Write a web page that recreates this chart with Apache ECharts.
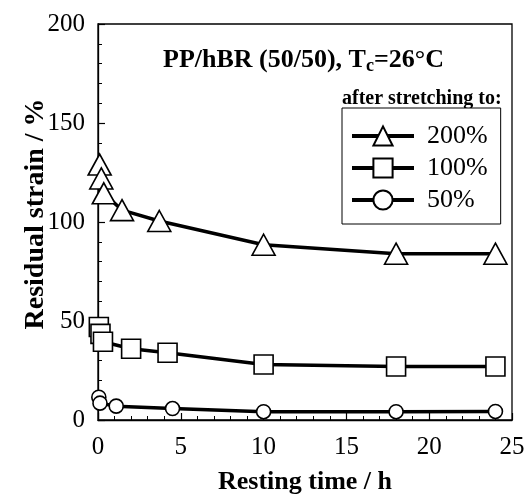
<!DOCTYPE html>
<html>
<head>
<meta charset="utf-8">
<script src="https://cdn.jsdelivr.net/npm/echarts@6/dist/echarts.min.js"></script>
<style>
  html, body { margin: 0; padding: 0; background: #fff; }
  #chart { width: 528px; height: 495px; }
</style>
</head>
<body>
<div id="chart"></div>
<script>
// Residual strain after resting, for three stretching levels
const seriesNames = ['200%', '100%', '50%'];

const time200 = [0.1, 0.2, 0.35, 1.45, 3.7, 10, 18, 24];
const strain200 = [129, 122, 114.5, 106, 100.5, 88.5, 84, 84];

const time100 = [0.05, 0.15, 0.3, 2, 4.2, 10, 18, 24];
const strain100 = [47, 43.5, 39.5, 36, 34, 28, 27, 27];

const time50 = [0.05, 0.12, 1.1, 4.5, 10, 18, 24];
const strain50 = [11.5, 8.5, 7, 5.8, 4.2, 4.2, 4.3];

const xTicks = { min: 0, max: 25, interval: 5 };
const yTicks = { min: 0, max: 200, interval: 50 };

const SERIF = '"Liberation Serif", "Times New Roman", serif';
const INK = '#000';

function pairs(xs, ys) {
  return xs.map((x, i) => [x, ys[i]]);
}

function lineSeries(name, xs, ys, symbol, size) {
  return {
    name: name,
    type: 'line',
    data: pairs(xs, ys),
    symbol: symbol,
    symbolSize: size,
    showAllSymbol: true,
    lineStyle: { color: INK, width: 3.5 },
    itemStyle: { color: '#fff', borderColor: INK, borderWidth: 1.6 },
    emphasis: { disabled: true },
    animation: false
  };
}

const chart = echarts.init(document.getElementById('chart'), null, { renderer: 'canvas' });

const axisCommon = {
  axisLine: { show: true, onZero: false, lineStyle: { color: INK, width: 1.3 } },
  axisTick: { show: true, inside: true, length: 7, lineStyle: { color: INK, width: 1.2 } },
  minorTick: { show: true, splitNumber: 5, length: 4, lineStyle: { color: INK, width: 1 } },
  splitLine: { show: false },
  axisLabel: { color: INK, fontFamily: SERIF, fontSize: 25 },
  nameTextStyle: { color: INK, fontFamily: SERIF, fontSize: 26, fontWeight: 'bold' },
  nameMoveOverlap: false
};

chart.setOption({
  backgroundColor: '#fff',
  animation: false,
  grid: {
    left: 98, right: 16, top: 24, bottom: 75,
    show: true, borderColor: INK, borderWidth: 1.3,
    outerBoundsMode: 'none'
  },
  xAxis: Object.assign({}, axisCommon, {
    type: 'value',
    min: xTicks.min, max: xTicks.max, interval: xTicks.interval,
    name: 'Resting time / h',
    nameLocation: 'middle',
    nameGap: 49,
    axisLabel: Object.assign({}, axisCommon.axisLabel, { margin: 15 })
  }),
  yAxis: Object.assign({}, axisCommon, {
    type: 'value',
    min: yTicks.min, max: yTicks.max, interval: yTicks.interval,
    name: 'Residual strain / %',
    nameLocation: 'middle',
    nameGap: 48,
    nameTextStyle: Object.assign({}, axisCommon.nameTextStyle, { fontSize: 28, padding: [0, 0, 0, 16] }),
    axisLabel: Object.assign({}, axisCommon.axisLabel, { margin: 13 })
  }),
  legend: {
    show: true,
    orient: 'vertical',
    left: 342,
    top: 108,
    data: seriesNames,
    itemWidth: 62,
    itemHeight: 24,
    itemGap: 6,
    padding: [15, 13, 11, 8],
    borderColor: INK,
    borderWidth: 1,
    backgroundColor: '#fff',
    selectedMode: false,
    lineStyle: { color: INK, width: 4 },
    textStyle: { color: INK, fontFamily: SERIF, fontSize: 26, lineHeight: 24, padding: [0, 0, 0, 8] }
  },
  graphic: [
    {
      type: 'text',
      left: 163,
      top: 45,
      style: {
        text: 'PP/hBR (50/50), T{sub|c}{main|=26°C}',
        fill: INK,
        font: 'bold 26px ' + SERIF,
        rich: {
          sub: { fontFamily: SERIF, fontWeight: 'bold', fontSize: 18, lineHeight: 14, verticalAlign: 'bottom', fill: INK },
          main: { fontFamily: SERIF, fontWeight: 'bold', fontSize: 26, lineHeight: 30, fill: INK }
        },
        lineHeight: 30
      }
    },
    {
      type: 'text',
      left: 342,
      top: 89,
      style: {
        text: 'after stretching to:',
        fill: INK,
        font: 'bold 20px ' + SERIF
      }
    }
  ],
  series: [
    lineSeries(seriesNames[0], time200, strain200, 'triangle', [23, 21]),
    lineSeries(seriesNames[1], time100, strain100, 'rect', 19),
    lineSeries(seriesNames[2], time50, strain50, 'circle', 14)
  ]
});
</script>
</body>
</html>
